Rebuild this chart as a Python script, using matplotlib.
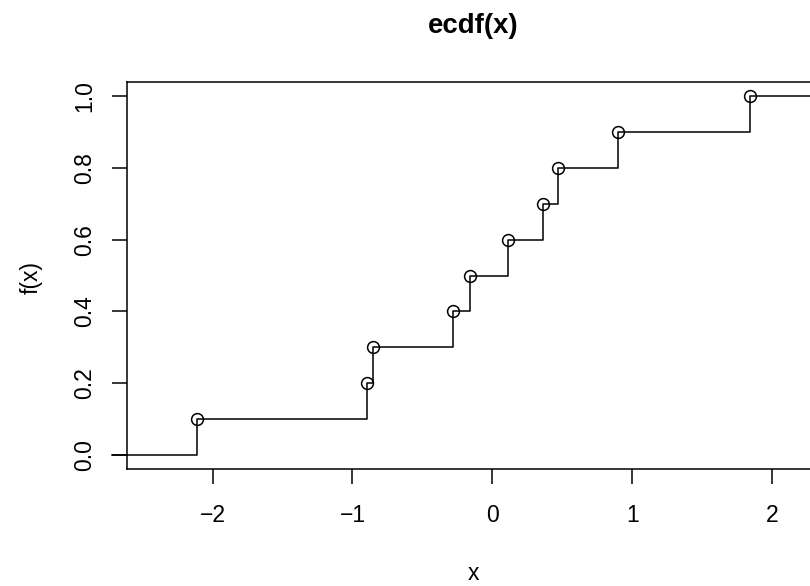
import matplotlib
matplotlib.use("Agg")
import matplotlib.pyplot as plt

# Data
x_knots = [-2.112, -0.898, -0.855, -0.279, -0.157, 0.109, 0.364, 0.471, 0.900, 1.841]
f_vals = [0.1, 0.2, 0.3, 0.4, 0.5, 0.6, 0.7, 0.8, 0.9, 1.0]
x_start = -2.72
x_end = 2.47
x_ticks = [-2, -1, 0, 1, 2]
x_tick_labels = ["\u22122", "\u22121", "0", "1", "2"]
y_ticks = [0.0, 0.2, 0.4, 0.6, 0.8, 1.0]
y_tick_labels = ["0.0", "0.2", "0.4", "0.6", "0.8", "1.0"]

plt.rcParams['font.family'] = ['Liberation Sans', 'DejaVu Sans']

W, H = 810, 586
fig = plt.figure(figsize=(W / 100, H / 100), dpi=100)
ax = fig.add_axes([127 / W, (H - 469) / H, (820 - 127) / W, (469 - 82) / H])

lw = 1.1
fs = 16.5
xs = [x_start] + x_knots + [x_end]
ys = [0.0] + f_vals + [1.0]
ax.plot(xs, ys, drawstyle='steps-post', color='black', lw=lw, clip_on=False)
ax.plot(x_knots, f_vals, 'o', mfc='none', mec='black', ms=8.5, mew=lw, clip_on=False)

ax.set_xlim(-2.611, 2.340)
ax.set_ylim(-0.04, 1.04)

ax.set_xticks(x_ticks)
ax.set_xticklabels(x_tick_labels)
ax.set_yticks(y_ticks)
ax.set_yticklabels(y_tick_labels, rotation=90, va='center')

for s in ax.spines.values():
    s.set_linewidth(lw)
ax.tick_params(axis='both', length=10.8, width=lw, labelsize=fs, color='black')
ax.tick_params(axis='x', pad=14.5)
ax.tick_params(axis='y', pad=11.5)

fig.text(473 / W, 1 - 26 / H, "ecdf(x)", ha='center', va='center',
         fontsize=fs * 1.2, fontweight='bold')
fig.text(473 / W, 1 - 573 / H, "x", ha='center', va='center', fontsize=fs)
fig.text(31 / W, 1 - 278 / H, "f(x)", ha='center', va='center', fontsize=fs,
         rotation=90)

fig.savefig("out.png", dpi=100)
